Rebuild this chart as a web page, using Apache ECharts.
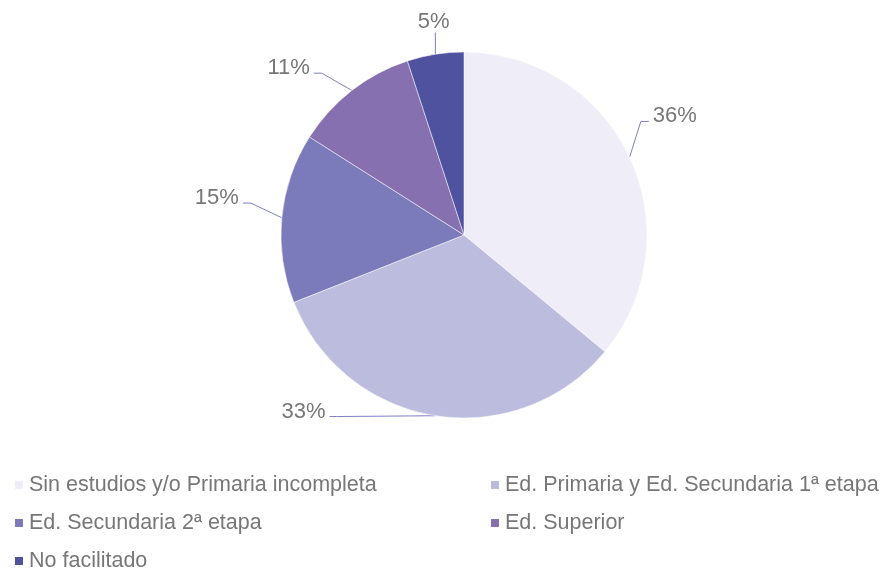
<!DOCTYPE html>
<html><head><meta charset="utf-8">
<script src="https://cdn.jsdelivr.net/npm/echarts@6/dist/echarts.min.js"></script>
<style>html,body{margin:0;padding:0;background:#fff}#c{width:885px;height:569px}</style>
</head><body><div id="c"></div>
<script>
const categories = ["Sin estudios y/o Primaria incompleta","Ed. Primaria y Ed. Secundaria 1ª etapa","Ed. Secundaria 2ª etapa","Ed. Superior","No facilitado"];
const values = [36, 33, 15, 11, 5];
const colors = ["#efedf8","#bcbcdf","#7b7bbb","#8670b0","#4f529f"];
// label nudges (style only)
const labelShift = [[-8, -33], [-92, -22], [-10, -18], [-16, -8], [32, -15]];

const chart = echarts.init(document.getElementById('c'));
const font = 'Liberation Sans, Arial, Helvetica, sans-serif';
const legendBase = {
  orient: 'vertical', itemWidth: 10, itemHeight: 10, itemGap: 16, icon: 'rect', height: 200,
  textStyle: {fontFamily: font, fontSize: 21.5, color: '#777'}, selectedMode: false
};
function layoutLabel(p) {
  const s = labelShift[p.dataIndex];
  const r = p.labelRect;
  const x = r.x + s[0], y = r.y + s[1], w = r.width, h = r.height;
  const p0 = p.labelLinePoints ? p.labelLinePoints[0] : null;
  const out = {dx: s[0], dy: s[1]};
  if (!p0) return out;
  if (p0[0] >= x - 4 && p0[0] <= x + w + 4) {
    // label above/below the edge point: straight vertical leader
    const ly = p0[1] < y ? y : y + h;
    out.labelLinePoints = [[p0[0], p0[1]], [p0[0], ly], [p0[0], ly]];
  } else if (p0[0] > x + w) {
    const ey = y + h / 2 + 5;
    out.labelLinePoints = [[p0[0], p0[1]], [x + w + 12, ey], [x + w + 4, ey]];
  } else {
    const ey = y + h / 2 + 5;
    out.labelLinePoints = [[p0[0], p0[1]], [x - 12, ey], [x - 4, ey]];
  }
  return out;
}
chart.setOption({
  animation: false,
  color: colors,
  legend: [
    Object.assign({}, legendBase, {left: 8, top: 469, data: [categories[0], categories[2], categories[4]]}),
    Object.assign({}, legendBase, {left: 484, top: 469, data: [categories[1], categories[3]]})
  ],
  series: [{
    type: 'pie',
    center: [464, 235],
    radius: 183,
    startAngle: 90,
    clockwise: true,
    data: categories.map((n, i) => ({name: n, value: values[i]})),
    itemStyle: {borderColor: '#fff', borderWidth: 0.5},
    label: {formatter: '{c}%', fontFamily: font, fontSize: 22, color: '#777'},
    labelLine: {length: 18, length2: 10, lineStyle: {color: '#7f7fc6', width: 1}},
    labelLayout: layoutLabel,
    emphasis: {disabled: true}
  }]
});
</script></body></html>
